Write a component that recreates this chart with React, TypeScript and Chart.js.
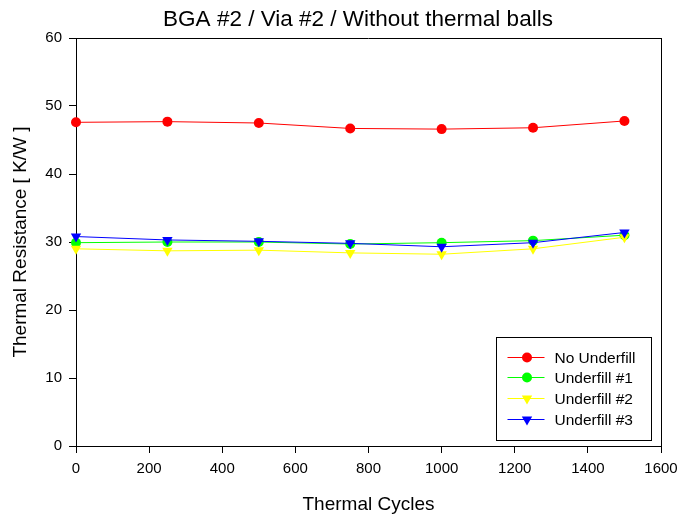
import React, { useEffect, useRef } from "react";
import { Chart, registerables } from "chart.js";
Chart.register(...registerables);

const cycles = [0, 250, 500, 750, 1000, 1250, 1500];
const noUnderfill = [47.6, 47.7, 47.5, 46.7, 46.6, 46.8, 47.8];
const underfill1 = [29.9, 30.0, 30.0, 29.7, 29.9, 30.2, 31.0];
const underfill2 = [29.0, 28.7, 28.8, 28.4, 28.2, 29.0, 30.7];
const underfill3 = [30.8, 30.3, 30.1, 29.8, 29.3, 29.9, 31.4];
const seriesNames = ["No Underfill", "Underfill #1", "Underfill #2", "Underfill #3"];
const seriesColors = ["#ff0000", "#00ff00", "#ffff00", "#0000ff"];
const seriesMarkers = ["circle", "circle", "triangle", "triangle"];
const seriesRotation = [0, 0, 180, 180];
const xTickMax = 1600;
const xTickStep = 200;
const yTickMax = 60;
const yTickStep = 10;
const chartTitle = "BGA #2 / Via #2 / Without thermal balls";
const xTitle = "Thermal Cycles";
const yTitle = "Thermal Resistance [ K/W ]";

const FONT = "Arial, 'Liberation Sans', sans-serif";

function drawMarker(ctx: CanvasRenderingContext2D, style: string, rot: number, x: number, y: number, r: number, color: string) {
  ctx.save();
  ctx.fillStyle = color;
  ctx.beginPath();
  if (style === "circle") {
    ctx.arc(x, y, r, 0, Math.PI * 2);
  } else {
    const rad = (rot * Math.PI) / 180;
    for (let k = 0; k < 3; k++) {
      const a = rad + (k * 2 * Math.PI) / 3;
      const px = x + Math.sin(a) * r;
      const py = y - Math.cos(a) * r;
      if (k === 0) ctx.moveTo(px, py);
      else ctx.lineTo(px, py);
    }
    ctx.closePath();
  }
  ctx.fill();
  ctx.restore();
}

const framePlugin = {
  id: "frame",
  beforeDatasetsDraw(chart: any) {
    const { ctx, chartArea } = chart;
    ctx.save();
    ctx.strokeStyle = "#000";
    ctx.lineWidth = 1;
    ctx.beginPath();
    ctx.moveTo(chartArea.left, Math.round(chartArea.top) + 0.5);
    ctx.lineTo(chartArea.right, Math.round(chartArea.top) + 0.5);
    ctx.moveTo(Math.round(chartArea.right) + 0.5, chartArea.top);
    ctx.lineTo(Math.round(chartArea.right) + 0.5, chartArea.bottom);
    ctx.stroke();
    ctx.restore();
  },
};

const titlePlugin = {
  id: "customTitle",
  afterDraw(chart: any) {
    const { ctx } = chart;
    ctx.save();
    ctx.fillStyle = "#000";
    ctx.font = `22.5px ${FONT}`;
    ctx.textAlign = "center";
    ctx.textBaseline = "middle";
    ctx.fillText(chartTitle, 358, 20);
    ctx.restore();
  },
};

const legendPlugin = {
  id: "boxLegend",
  afterDraw(chart: any) {
    const { ctx, chartArea } = chart;
    const w = 155;
    const h = 103;
    const x0 = Math.round(chartArea.right - 10 - w) + 0.5;
    const y0 = Math.round(chartArea.bottom - 6 - h) + 0.5;
    ctx.save();
    ctx.fillStyle = "#fff";
    ctx.fillRect(x0, y0, w, h);
    ctx.strokeStyle = "#000";
    ctx.lineWidth = 1;
    ctx.strokeRect(x0, y0, w, h);
    const rowGap = 20.8;
    chart.data.datasets.forEach((ds: any, i: number) => {
      const y = Math.round(y0 + 19 + i * rowGap) + 0.5;
      ctx.strokeStyle = ds.borderColor;
      ctx.lineWidth = 1;
      ctx.beginPath();
      ctx.moveTo(x0 + 11, y);
      ctx.lineTo(x0 + 48, y);
      ctx.stroke();
      drawMarker(ctx, ds.pointStyle, ds.pointRotation, x0 + 30.5, y, ds.pointRadius, ds.backgroundColor);
      ctx.fillStyle = "#000";
      ctx.font = `15.5px ${FONT}`;
      ctx.textBaseline = "middle";
      ctx.textAlign = "left";
      ctx.fillText(ds.label, x0 + 58, y + 1);
    });
    ctx.restore();
  },
};

export default function App() {
  const ref = useRef<HTMLCanvasElement>(null);
  useEffect(() => {
    document.body.style.margin = "0";
    const allSeries = [noUnderfill, underfill1, underfill2, underfill3];
    const datasets = allSeries.map((vals, i) => ({
      label: seriesNames[i],
      data: cycles.map((c, j) => ({ x: c, y: vals[j] })),
      borderColor: seriesColors[i],
      backgroundColor: seriesColors[i],
      borderWidth: 1,
      pointStyle: seriesMarkers[i],
      pointRotation: seriesRotation[i],
      pointRadius: seriesMarkers[i] === "circle" ? 5 : 6,
      pointBorderWidth: 0,
      pointBackgroundColor: seriesColors[i],
      tension: 0,
      clip: false as any,
      order: 4 - i,
    }));
    const chart = new Chart(ref.current!, {
      type: "line",
      data: { datasets },
      plugins: [framePlugin, legendPlugin, titlePlugin],
      options: {
        responsive: false,
        animation: false,
        layout: { padding: { left: 0, right: 21, top: 38, bottom: 0 } },
        plugins: {
          legend: { display: false },
          tooltip: { enabled: false },
          title: { display: false },
        },
        scales: {
          x: {
            type: "linear",
            min: 0,
            max: xTickMax,
            ticks: {
              stepSize: xTickStep,
              color: "#000",
              font: { family: FONT, size: 15 },
              padding: 7,
              maxRotation: 0,
              callback: (v: any) => String(v),
            },
            grid: { drawOnChartArea: false, drawTicks: true, tickLength: 7, color: "#000" },
            border: { display: true, color: "#000", width: 1 },
            title: {
              display: true,
              text: xTitle,
              color: "#000",
              font: { family: FONT, size: 19 },
              padding: { top: 0, bottom: 4.6 },
            },
            afterFit(scale: any) {
              scale.height = 75;
              scale.paddingLeft = 0;
              scale.paddingRight = 0;
            },
          },
          y: {
            type: "linear",
            min: 0,
            max: yTickMax,
            ticks: {
              stepSize: yTickStep,
              color: "#000",
              font: { family: FONT, size: 15 },
              padding: 7,
            },
            grid: { drawOnChartArea: false, drawTicks: true, tickLength: 7, color: "#000" },
            border: { display: true, color: "#000", width: 1 },
            title: {
              display: true,
              text: yTitle,
              color: "#000",
              font: { family: FONT, size: 19 },
              padding: { top: 9.6, bottom: 0 },
            },
            afterFit(scale: any) {
              scale.width = 76;
              scale.paddingTop = 0;
              scale.paddingBottom = 0;
            },
          },
        },
      },
    });
    return () => chart.destroy();
  }, []);
  return <canvas ref={ref} width={682} height={521} style={{ display: "block" }} />;
}
